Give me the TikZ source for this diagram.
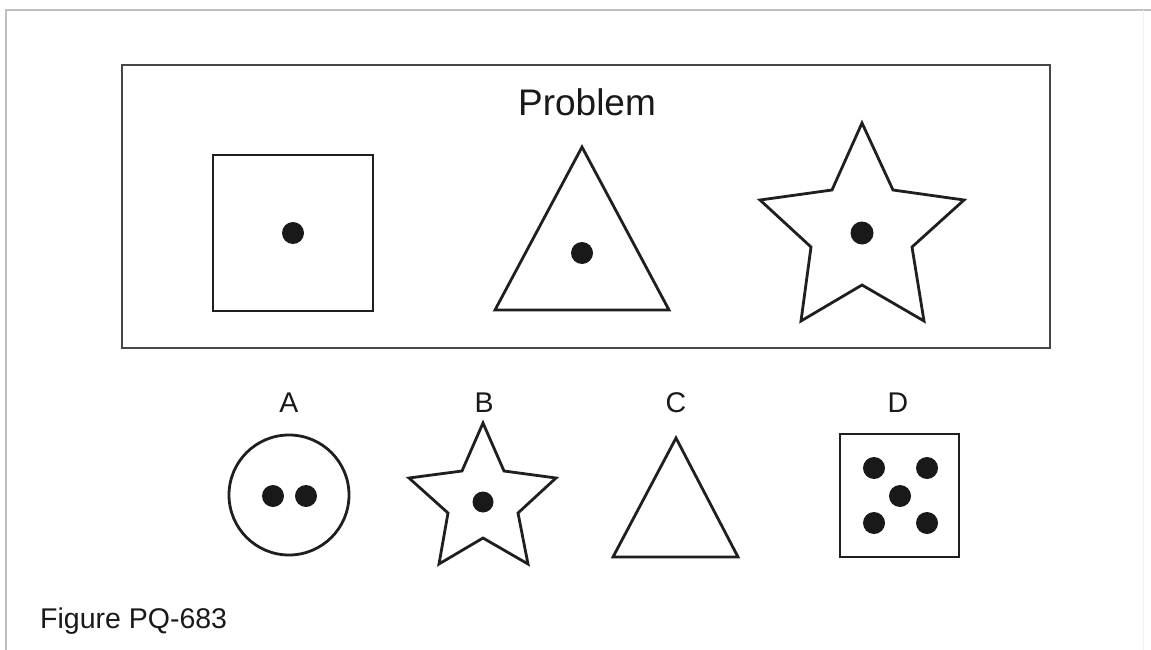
\documentclass[tikz,border=0pt]{standalone}
\usepackage{fontspec}
\setmainfont{Liberation Sans}
\begin{document}
\begin{tikzpicture}[x=1pt,y=-1pt,
  shp/.style={draw=black!88, line width=2.8pt, line join=miter},
  frame/.style={draw=black!72, line width=2.3pt},
  dot/.style={fill=black!90},
  lbl/.style={inner sep=0pt, anchor=base, font=\fontsize{28.5}{30}\selectfont, text=black!90}]
\useasboundingbox (0,0) rectangle (1151,650);
\fill[white] (0,0) rectangle (1151,650);
% outer faint border
\draw[black!25, line width=1.5pt] (6,650) -- (6,10) -- (1151,10);
\draw[black!6, line width=1pt] (1143,10) -- (1143,650);
% problem frame
\draw[frame] (122,65) rectangle (1050,348);
\node[inner sep=0pt, anchor=base, font=\fontsize{37}{40}\selectfont, text=black!90] (ptitle) at (587,116) {Problem};
% square
\draw[shp] (213,155) rectangle (373,311);
\fill[dot] (293,233) circle (11);
% triangle
\draw[shp] (582,147) -- (669,310) -- (495,310) -- cycle;
\fill[dot] (582,253) circle (11);
% big star
\draw[shp] (862,123) -- (893,190) -- (964,200) -- (912,247) -- (924,321) -- (862,285) -- (801,321) -- (811,247) -- (760,200) -- (832,190) -- cycle;
\fill[dot] (862,233) circle (11.5);
% labels
\node[lbl] (la) at (289,412) {A};
\node[lbl] (lb) at (484,412) {B};
\node[lbl] (lc) at (676,412) {C};
\node[lbl] (ld) at (898,412) {D};
% A circle
\draw[shp] (289,495) circle (60);
\fill[dot] (273,496) circle (11);
\fill[dot] (306,496) circle (11);
% B small star
\draw[shp] (483,423) -- (504,471) -- (556,478) -- (518,513) -- (528,564) -- (483,538) -- (439,564) -- (448,513) -- (409,478) -- (462,471) -- cycle;
\fill[dot] (483,502) circle (10.5);
% C triangle
\draw[shp] (676,438) -- (738,557) -- (613,557) -- cycle;
% D square
\draw[shp] (840,434) rectangle (959,557);
\fill[dot] (874,468) circle (11);
\fill[dot] (927,468) circle (11);
\fill[dot] (900,496) circle (11);
\fill[dot] (874,523) circle (11);
\fill[dot] (927,523) circle (11);
% caption
\node[inner sep=0pt, anchor=base west, font=\fontsize{28.5}{30}\selectfont, text=black!90] (cap) at (40,628) {Figure PQ-683};
\end{tikzpicture}
\end{document}
